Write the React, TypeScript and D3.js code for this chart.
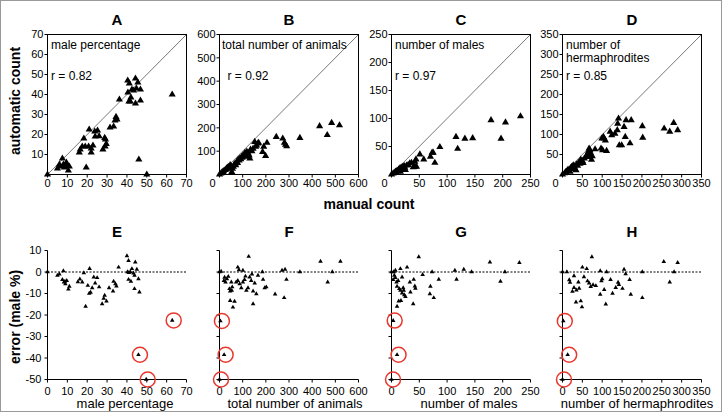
import React from "react";
import * as d3 from "d3";

// ---------- data ----------
const topTitles = ["A", "B", "C", "D"];
const bottomTitles = ["E", "F", "G", "H"];
const innerLabels = [["male percentage"], ["total number of animals"], ["number of males"], ["number of", "hermaphrodites"]];
const rValues = ["r = 0.82", "r = 0.92", "r = 0.97", "r = 0.85"];
const bottomAxisTitles = ["male percentage", "total number of animals", "number of males", "number of hermaphrodites"];

const pctTicks = [0, 10, 20, 30, 40, 50, 60, 70];
const totalTicks = [0, 100, 200, 300, 400, 500, 600];
const malesTicks = [0, 50, 100, 150, 200, 250];
const hermTicks = [0, 50, 100, 150, 200, 250, 300, 350];
const errorTicks = [-50, -40, -30, -20, -10, 0, 10];

// A: manual vs automatic male percentage
const aPoints: [number, number][] = [
  [0, 0], [5, 3], [6, 5], [7.5, 8], [6.5, 4], [8, 5], [9, 4], [9.5, 6], [10, 4.5], [10.5, 2], [11, 4], [8.5, 3.5],
  [16, 11], [16.5, 12.5], [17.5, 14], [19, 14], [18.3, 18], [19.5, 3.5],
  [21, 22.5], [20.7, 14], [22, 13], [22.9, 14.5], [22, 11], [24, 19], [23.8, 21.5], [25.2, 22], [26, 19.2], [27.9, 12.5], [29, 14], [29.2, 17.5], [29.6, 15.3], [28.8, 18.3],
  [31.5, 23.5], [33.3, 24], [34, 27], [34.5, 28.8], [35, 27.5], [36.2, 37.5],
  [40.4, 47], [41.2, 45.5], [40.5, 41], [41, 36.5], [42, 38.5], [42.5, 42.5], [43.4, 42], [44.3, 48], [44.8, 43], [45.5, 46], [46.8, 42.5], [44.3, 35.5], [41.7, 36.5], [46.8, 37], [46, 7.5], [50, 0], [62.8, 40],
];

// B: total number of animals
const bPoints: [number, number][] = [
  [0, 0], [6, 4], [10, 8], [14, 11], [18, 14], [24, 19], [28, 22], [31, 26], [35, 28], [38, 33], [42, 30], [46, 40], [50, 36], [53, 11], [56, 25],
  [60, 33], [63, 42], [67, 47], [70, 40], [74, 54], [78, 50], [81, 64], [85, 60], [88, 69], [92, 66], [95, 76], [98, 72], [102, 83], [106, 78],
  [110, 93], [114, 76], [118, 98], [124, 90], [128, 82], [131, 69], [134, 107], [140, 100], [145, 111], [152, 140], [156, 119], [160, 125],
  [166, 133], [169, 136], [186, 97], [191, 119], [199, 80], [205, 136], [245, 161], [273, 154], [280, 136], [285, 128], [290, 121],
  [347, 157], [432, 207], [465, 169], [484, 221], [518, 211],
];

// C: number of males
const cPoints: [number, number][] = [
  [0, 0], [3, 2], [5, 3], [7, 5], [8, 4], [10, 7], [11, 6], [13, 9], [14, 8], [15, 11], [16, 5], [17, 12], [18, 9], [19, 13], [20, 10],
  [21, 14], [22, 11], [23, 15], [24, 12], [25, 8], [27, 16], [30, 17], [33, 20], [36, 21], [39, 13], [42, 23], [42, 14], [44, 27], [45, 14],
  [51, 36], [58, 27], [70, 32], [73, 39], [75, 39], [78, 21], [87, 49], [116, 67], [119, 46], [132, 64], [146, 65], [179, 97], [197, 64], [205, 93], [232, 104],
];

// D: number of hermaphrodites
const dPoints: [number, number][] = [
  [0, 0], [5, 3], [8, 6], [10, 8], [14, 12], [17, 10], [19, 7], [20, 16], [23, 19], [25, 14], [27, 23], [30, 20], [31, 15], [34, 11], [35, 25],
  [38, 22], [40, 29], [44, 27], [46, 37], [48, 32], [50, 34], [52, 29], [55, 40], [60, 45], [63, 52], [65, 57], [67, 65], [69, 61], [65, 44],
  [68, 50], [71, 48], [73, 37], [75, 46], [70, 55], [82, 63], [97, 65], [99, 90], [103, 94], [105, 90], [101, 61], [108, 85], [111, 59],
  [120, 107], [124, 98], [132, 102], [138, 111], [139, 127], [141, 140], [143, 73], [149, 73], [155, 119], [158, 94], [160, 136], [170, 78],
  [173, 136], [201, 121], [202, 92], [256, 115], [270, 107], [280, 129], [290, 111],
];

// E: error vs male percentage
const ePoints: [number, number][] = [
  [0, 0], [5, -1.6], [6, -1], [7.5, -3.6], [8, 0.5], [8.8, -4.4], [9.7, -4], [10.5, -8], [11, -6.7], [9, -5.5], [8.3, -4.7],
  [15.3, -4.6], [16.3, -3.3], [17.5, -4.7], [18.3, -0.4], [19.2, -16], [20.3, -6.3], [21.2, 1.6], [21.7, -9.5], [22.5, -7.4], [21, -10],
  [23.3, -2.4], [24, -5.2], [25, -2.7], [26, -7], [27.5, -14.8], [28.3, -12.3], [28.8, -10.9], [29.7, -13.6], [31, -7.4], [33, -8.9],
  [33.3, -4.4], [34.2, -5.5], [34.7, -6.6], [35.8, 2.2], [40, 7.5], [40.8, 5.3], [40.3, 0], [40.8, -3.5], [41.7, 0], [42, -4.4], [42.5, 1.5],
  [43.3, -0.5], [43.8, -7.8], [44.2, 4.6], [45, 1.2], [45.8, -3.2], [46.3, -9.4], [43.8, -1.6], [41, -0.3],
  [62.8, -22.5], [45.8, -38.5], [49.7, -50],
];
const eOutliers: [number, number][] = [[62.8, -22.5], [45.8, -38.5], [49.7, -50]];

// F: error vs total number of animals
const fPoints: [number, number][] = [
  [0, 0], [7, 0.3], [19, -4], [22, -2.5], [26, -4.7], [32, -3.2], [38, -2.1], [43, -7.8], [46, -8.9], [46, -13.3], [51, -4.7], [53, -8.6],
  [55, -7], [58, -16.4], [65, -13.7], [72, -4.7], [79, -4], [79, 2.2], [84, 1], [87, -5.5], [94, -7.4], [101, 0.7], [101, -4.7], [108, -3.6],
  [112, -2], [116, -8.6], [123, -7.4], [126, 7.2], [130, -2.4], [137, -4], [140, -1], [145, -8.9], [145, -14.8], [152, -5.2], [159, -10.2],
  [166, -1.6], [185, 0], [188, -3.5], [195, -7.4], [202, -7], [240, -10.3], [270, 0.7], [279, -12], [283, 1.2], [289, -3.5], [347, 0],
  [436, 4.9], [467, -4.7], [487, 0], [522, 4.9],
  [4, -22.8], [20, -38.5], [0, -50],
];
const fOutliers: [number, number][] = [[4, -22.8], [20, -38.5], [0, -50]];

// G: error vs number of males
const gPoints: [number, number][] = [
  [0, 0], [4, 0], [3, -3.6], [5, -1.6], [7, 0.7], [7, -2.7], [9, -4.7], [10, -6.7], [12, -4], [14, -7.8], [16, -8.6], [16, 1.5], [19, -2.4],
  [19, -9.8], [21, -7.4], [22, -8.6], [23, -10.7], [25, -11.5], [10, -16], [13, -13.6], [17, -13.3], [28, 2.2], [33, -4.7], [34, -9.4],
  [39, -14.8], [40, -3.5], [42, -6.6], [43, -7.6], [49, 7], [56, -1.2], [69, -10.2], [70, -6.7], [73, 0], [76, -12], [85, -3.4], [114, 0.7],
  [117, -3.4], [130, 1.2], [144, 0], [177, 4.6], [196, -4.4], [204, 0], [230, 4.3],
  [3, -22.6], [10, -38.5], [0, -50],
];
const gOutliers: [number, number][] = [[3, -22.6], [10, -38.5], [0, -50]];

// H: error vs number of hermaphrodites
const hPoints: [number, number][] = [
  [0, 0], [11, 0], [17, -3.7], [19, -4.9], [25, -9], [29, -1.8], [29, -7.3], [34, -14], [35, -8.4], [40, -4.7], [42, -7.6], [46, -13.5],
  [49, -16.3], [50, 2.2], [54, -2.3], [61, 1.5], [63, -4.2], [67, -5.2], [71, -6.8], [74, 7], [77, -6], [84, -6.4], [95, 0.5], [95, -10.4],
  [98, -4.2], [100, -3.2], [105, -8.2], [109, -15], [111, 0], [121, -3.6], [126, -10], [134, -7.3], [140, -4.8], [142, -5.9], [151, -7.7],
  [155, 1.2], [159, -0.9], [169, -3.6], [172, -10.4], [201, 0], [201, -12], [255, 4.8], [270, -4.7], [281, 0], [290, 4.3],
  [2, -22.8], [13, -38.5], [0, -50],
];
const hOutliers: [number, number][] = [[2, -22.8], [13, -38.5], [0, -50]];

// ---------- layout ----------
const FONT = "'Liberation Sans', Arial, sans-serif";
const colLeft = [47.5, 219.5, 391.5, 562.5];
const plotW = 139;
const topY0 = 34.5, topY1 = 174.5;
const botY0 = 250.5, botY1 = 379.5;
const bottomTitleShift = [8, 6, 8, 5];

const topSets = [
  { pts: aPoints, ticks: pctTicks, shiftZero: 0 },
  { pts: bPoints, ticks: totalTicks, shiftZero: -7 },
  { pts: cPoints, ticks: malesTicks, shiftZero: -7 },
  { pts: dPoints, ticks: hermTicks, shiftZero: -7 },
];
const botSets = [
  { pts: ePoints, out: eOutliers, ticks: pctTicks, yLabels: true },
  { pts: fPoints, out: fOutliers, ticks: totalTicks, yLabels: false },
  { pts: gPoints, out: gOutliers, ticks: malesTicks, yLabels: false },
  { pts: hPoints, out: hOutliers, ticks: hermTicks, yLabels: false },
];

const triTop = d3.symbol(d3.symbolTriangle, 22)() as string;
const triBot = d3.symbol(d3.symbolTriangle, 9)() as string;

function TopPanel({ i }: { i: number }) {
  const s = topSets[i];
  const max = s.ticks[s.ticks.length - 1];
  const x0 = colLeft[i];
  const x = d3.scaleLinear().domain([0, max]).range([x0, x0 + plotW]);
  const y = d3.scaleLinear().domain([0, max]).range([topY1, topY0]);
  const lines = innerLabels[i];
  return (
    <g>
      <text x={(x0 + x0 + plotW) / 2} y={25} textAnchor="middle" fontSize={15} fontWeight="bold">{topTitles[i]}</text>
      <line x1={x(0)} y1={y(0)} x2={x(max)} y2={y(max)} stroke="#555" strokeWidth={0.8} />
      {s.ticks.filter((t) => t !== 0).map((t) => (
        <g key={"y" + t}>
          <line x1={x0 - 3} x2={x0} y1={y(t)} y2={y(t)} stroke="#000" />
          <text x={x0 - 4} y={y(t)} dy="0.35em" textAnchor="end" fontSize={11}>{t}</text>
        </g>
      ))}
      {s.ticks.map((t) => (
        <g key={"x" + t}>
          <line x1={x(t)} x2={x(t)} y1={topY1} y2={topY1 + 3} stroke="#000" />
          <text x={x(t) + (t === 0 ? s.shiftZero : 0)} y={topY1 + 12} textAnchor="middle" fontSize={11}>{t}</text>
        </g>
      ))}
      {s.pts.map((p, k) => (
        <path key={k} d={triTop} transform={`translate(${x(p[0])},${y(p[1])})`} fill="#000" />
      ))}
      <rect x={x0} y={topY0} width={plotW} height={topY1 - topY0} fill="none" stroke="#000" />
      {lines.map((l, k) => (
        <text key={k} x={x0 + (i === 1 ? 2.5 : 3.5)} y={49 + k * 13} fontSize={12}>{l}</text>
      ))}
      <text x={x0 + (i === 1 ? 8 : 3.5)} y={80} fontSize={12}>{rValues[i]}</text>
    </g>
  );
}

function BottomPanel({ i }: { i: number }) {
  const s = botSets[i];
  const max = s.ticks[s.ticks.length - 1];
  const x0 = colLeft[i];
  const x = d3.scaleLinear().domain([0, max]).range([x0, x0 + plotW]);
  const y = d3.scaleLinear().domain([-50, 10]).range([botY1, botY0]);
  return (
    <g>
      <text x={(x0 + x0 + plotW) / 2} y={237} textAnchor="middle" fontSize={15} fontWeight="bold">{bottomTitles[i]}</text>
      <line x1={x0} x2={x0 + plotW} y1={y(0)} y2={y(0)} stroke="#000" strokeDasharray="2,1.5" strokeWidth={1} />
      {errorTicks.map((t) => (
        <g key={"y" + t}>
          <line x1={x0 - 3} x2={x0} y1={y(t)} y2={y(t)} stroke="#000" />
          {s.yLabels && <text x={x0 - 6} y={y(t)} dy="0.35em" textAnchor="end" fontSize={11}>{t}</text>}
        </g>
      ))}
      {s.ticks.map((t) => (
        <g key={"x" + t}>
          <line x1={x(t)} x2={x(t)} y1={botY1} y2={botY1 + 3} stroke="#000" />
          <text x={x(t)} y={botY1 + 15} textAnchor="middle" fontSize={11}>{t}</text>
        </g>
      ))}
      <line x1={x0} x2={x0} y1={botY0} y2={botY1} stroke="#000" />
      <line x1={x0} x2={x0 + plotW} y1={botY1} y2={botY1} stroke="#000" />
      {s.pts.map((p, k) => (
        <path key={k} d={triBot} transform={`translate(${x(p[0])},${y(p[1])})`} fill="#000" />
      ))}
      {s.out.map((p, k) => (
        <circle key={"c" + k} cx={x(p[0]) + 1.5} cy={y(p[1])} r={7.5} fill="none" stroke="#e8382e" strokeWidth={1.5} />
      ))}
      <text x={(x0 + x0 + plotW) / 2 + bottomTitleShift[i]} y={407.5} textAnchor="middle" fontSize={13}>{bottomAxisTitles[i]}</text>
    </g>
  );
}

export default function App() {
  return (
    <svg width={724} height={418} style={{ position: "absolute", left: 0, top: 0, background: "#fff" }} fontFamily={FONT}>
      <rect x={0.5} y={0.5} width={721} height={411} fill="#fff" stroke="#999" />
      {[0, 1, 2, 3].map((i) => <TopPanel key={"t" + i} i={i} />)}
      {[0, 1, 2, 3].map((i) => <BottomPanel key={"b" + i} i={i} />)}
      <text transform="translate(20,101) rotate(-90)" textAnchor="middle" fontSize={14} fontWeight="bold">automatic count</text>
      <text transform="translate(20,317) rotate(-90)" textAnchor="middle" fontSize={14} fontWeight="bold">error (male %)</text>
      <text x={369} y={209} textAnchor="middle" fontSize={14} fontWeight="bold">manual count</text>
    </svg>
  );
}
